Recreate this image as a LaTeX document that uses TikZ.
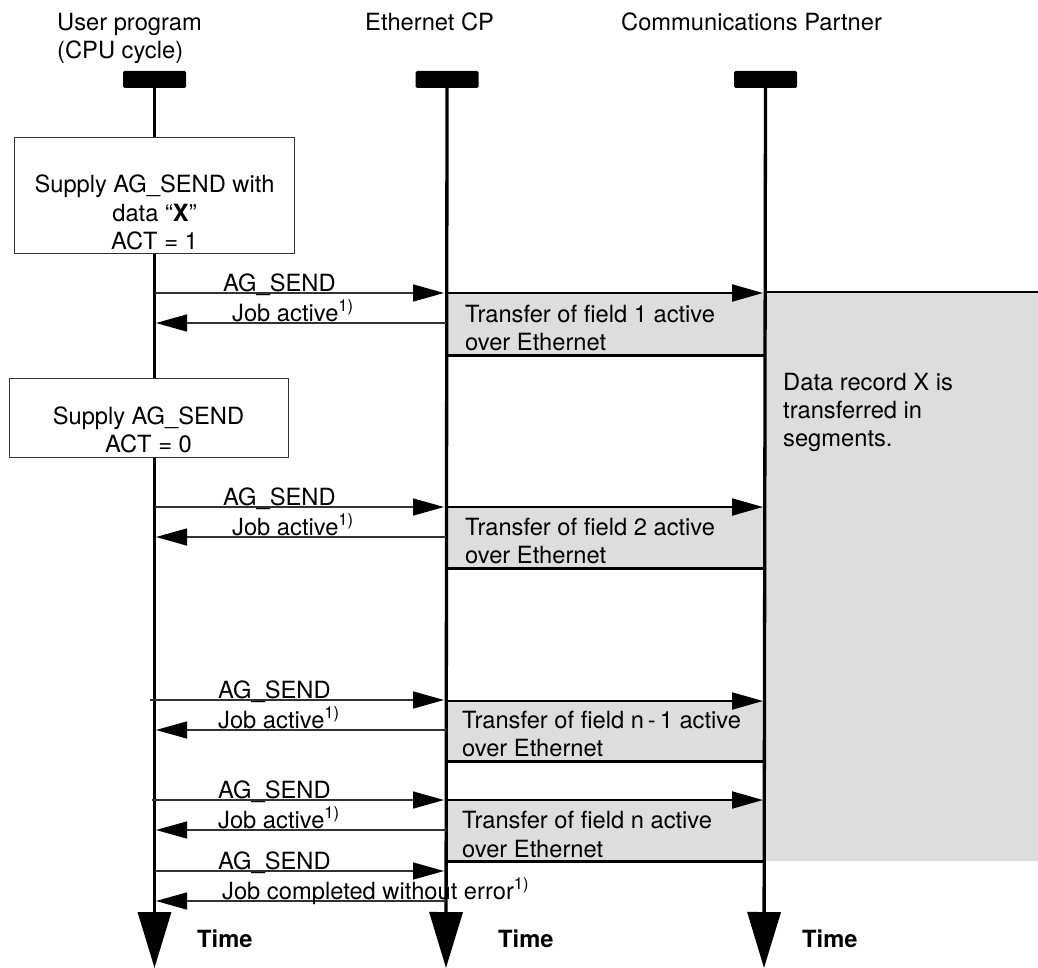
\documentclass[tikz,border=0pt]{standalone}
\usepackage{fontspec}
\setmainfont{TeX Gyre Heros}
\usetikzlibrary{arrows.meta}
\definecolor{fieldgray}{RGB}{221,221,221}
\definecolor{msgline}{RGB}{50,50,50}
\begin{document}
\begin{tikzpicture}[x=1pt,y=-1pt,
  font=\fontsize{23.7}{28.4}\selectfont,
  txt/.style={anchor=base west,inner sep=0pt},
  ctxt/.style={anchor=base,inner sep=0pt},
  bar/.style={fill=black,minimum width=63pt,minimum height=17pt,inner sep=0pt,rounded corners=1.5pt},
  life/.style={line width=3.3pt,-{Triangle[length=56pt,width=33pt]}},
  msg/.style={draw=msgline,line width=1.4pt,-{Triangle[length=31pt,width=17pt,color=black]}},
  pmsg/.style={draw=black,line width=2pt,-{Triangle[length=31pt,width=17pt,color=black]}},
  fieldbox/.style={fill=fieldgray,anchor=north west,inner sep=0pt},
  sepline/.style={line width=2.2pt},
  actbox/.style={draw=black!80,fill=white,line width=1pt,anchor=north west,inner sep=0pt},
  timelbl/.style={anchor=base west,inner sep=0pt,font=\fontsize{23.7}{28.4}\selectfont\bfseries},
]
\useasboundingbox (0,0) rectangle (1038,968);

% headers
\node[txt] (h1a) at (57,31) {User program};
\node[txt] (h1b) at (57,59) {(CPU cycle)};
\node[txt] (h2) at (365,31) {Ethernet CP};
\node[txt] (h3) at (621,31) {Communications Partner};

% bars
\node[bar] (b1) at (154.5,79.5) {};
\node[bar] (b2) at (447,79.5) {};
\node[bar] (b3) at (765.5,79.5) {};

% grey areas
\node[fieldbox,minimum width=273pt,minimum height=569pt] (big) at (765,292) {};
\draw[sepline] (big.north west) -- (big.north east);
\node[txt] (d1) at (783,390) {Data record X is};
\node[txt] (d2) at (783,418) {transferred in};
\node[txt] (d3) at (783,446) {segments.};

\node[fieldbox,minimum width=318pt,minimum height=62pt] (f1) at (447,293) {};
\node[fieldbox,minimum width=318pt,minimum height=61pt] (f2) at (447,507) {};
\node[fieldbox,minimum width=320pt,minimum height=60pt] (f3) at (445,701) {};
\node[fieldbox,minimum width=318pt,minimum height=61pt] (f4) at (447,800) {};
\foreach \f in {f1,f2,f3,f4}{\draw[sepline] (\f.south west) -- (\f.south east);}

\node[txt] (t1a) at (465,322) {Transfer of field 1 active};
\node[txt] (t1b) at (465,350) {over Ethernet};
\node[txt] (t2a) at (465,535) {Transfer of field 2 active};
\node[txt] (t2b) at (465,563) {over Ethernet};
\node[txt] (t3a) at (462,728) {Transfer of field n\,-\,1 active};
\node[txt] (t3b) at (462,756) {over Ethernet};
\node[txt] (t4a) at (462,828) {Transfer of field n active};
\node[txt] (t4b) at (462,857) {over Ethernet};

% lifelines
\coordinate (e1) at (154.5,968);
\coordinate (e2) at (446,968);
\coordinate (e3) at (764,968);
\draw[life] (b1.south) -- (e1);
\draw[life] (b2.south) -- (e2);
\draw[life] (b3.south) -- (e3);

% activity boxes
\node[actbox,minimum width=280pt,minimum height=116pt] (a1) at (14,137) {};
\node[ctxt] (a1a) at (154.5,193) {Supply AG\_SEND with};
\node[ctxt] (a1b) at (154.5,222) {data ``\textbf{X}''};
\node[ctxt] (a1c) at (154.5,250) {ACT = 1};
\node[actbox,minimum width=279pt,minimum height=79pt] (a2) at (9,378) {};
\node[ctxt] (a2a) at (148.5,424) {Supply AG\_SEND};
\node[ctxt] (a2b) at (148.5,452) {ACT = 0};

% messages
\foreach \i/\ys/\yj/\xs in {1/293/323/155,2/507/537/155,3/700/730/150,4/800/830/152,5/871/901/155}{
  \coordinate (us\i) at (\xs,\ys);
  \coordinate (cs\i) at (444,\ys);
  \coordinate (cj\i) at (446,\yj);
  \coordinate (uj\i) at (156,\yj);
}
\coordinate (cp1) at (447,293); \coordinate (pp1) at (763,293);
\coordinate (cp2) at (447,507); \coordinate (pp2) at (763,507);
\coordinate (cp3) at (447,701); \coordinate (pp3) at (763,701);
\coordinate (cp4) at (447,800); \coordinate (pp4) at (763,800);
\foreach \i in {1,...,5}{
  \draw[msg] (us\i) -- (cs\i);
  \draw[msg] (cj\i) -- (uj\i);
}
\foreach \i in {1,...,4}{
  \draw[pmsg] (cp\i) -- (pp\i);
}

\node[txt] (m1) at (223,291) {AG\_SEND};
\node[txt] (j1) at (232,321) {Job active\textsuperscript{1)}};
\node[txt] (m2) at (223,505) {AG\_SEND};
\node[txt] (j2) at (232,535) {Job active\textsuperscript{1)}};
\node[txt] (m3) at (218,698) {AG\_SEND};
\node[txt] (j3) at (218,728) {Job active\textsuperscript{1)}};
\node[txt] (m4) at (218,798) {AG\_SEND};
\node[txt] (j4) at (218,828) {Job active\textsuperscript{1)}};
\node[txt] (m5) at (218,869) {AG\_SEND};
\node[txt] (j5) at (222,899) {Job completed without error\textsuperscript{1)}};

% time labels
\node[timelbl] (tm1) at (197,947) {Time};
\node[timelbl] (tm2) at (498,947) {Time};
\node[timelbl] (tm3) at (802,947) {Time};
\end{tikzpicture}
\end{document}
